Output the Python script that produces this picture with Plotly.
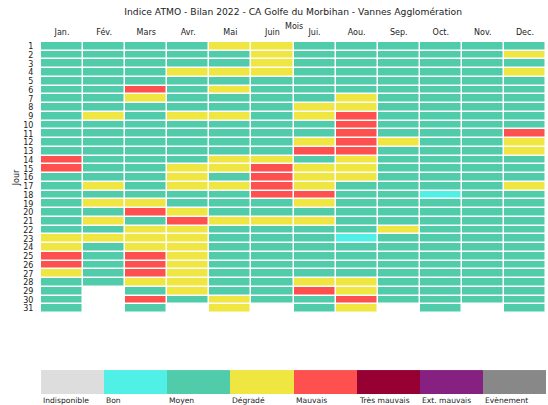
import plotly.graph_objects as go

months = ["Jan.", "Fév.", "Mars", "Avr.", "Mai", "Juin", "Jui.", "Aou.", "Sep.", "Oct.", "Nov.", "Dec."]
days = [str(d) for d in range(1, 32)]
categories = ["Indisponible", "Bon", "Moyen", "Dégradé", "Mauvais", "Très mauvais", "Ext. mauvais", "Evènement"]
colors = ["#dddddd", "#50f0e6", "#50ccaa", "#f0e641", "#ff5050", "#960032", "#872181", "#888888"]

# codes: 0 Indisponible, 1 Bon, 2 Moyen, 3 Dégradé, 4 Mauvais ... None = no day
jan = [2,2,2,2,2,2,2,2,2,2,2,2,2,4,4,2,2,2,2,2,2,2,3,3,4,4,3,2,2,2,2]
fev = [2,2,2,2,2,2,2,2,3,2,2,2,2,2,2,2,3,2,3,2,3,2,3,2,2,2,2,2,None,None,None]
mars = [2,2,2,2,2,4,3,2,2,2,2,2,2,2,2,2,2,2,3,4,2,3,3,3,4,4,4,3,2,4,2]
avr = [2,2,2,3,2,2,2,2,3,2,2,2,2,2,3,3,3,2,2,3,4,3,3,3,3,3,3,3,3,2,None]
mai = [3,2,2,3,2,3,2,2,3,2,2,2,2,3,3,2,3,2,2,2,3,2,2,2,2,2,2,2,2,3,3]
juin = [3,3,3,3,2,2,2,2,2,2,2,2,2,3,4,4,4,4,2,2,3,2,2,2,2,2,2,2,2,2,None]
juil = [2,2,2,2,2,2,2,3,3,2,2,3,4,2,3,3,3,4,3,2,3,2,2,2,2,2,2,3,4,2,2]
aout = [2,2,2,2,2,2,3,3,4,4,4,4,4,3,3,3,2,2,2,2,2,2,1,2,2,2,2,3,3,4,3]
sep = [2,2,2,2,2,2,2,2,2,2,2,3,2,2,2,2,2,2,2,2,2,3,2,2,2,2,2,2,2,2,None]
oct_ = [2,2,2,2,2,2,2,2,2,2,2,2,2,2,2,2,2,1,2,2,2,2,2,2,2,2,2,2,2,2,2]
nov = [2]*30 + [None]
dec = [2,3,2,3,2,2,2,2,2,2,4,3,3,2,2,2,3,2,2,2,2,2,2,2,2,2,2,2,2,2,2]

cols = [jan, fev, mars, avr, mai, juin, juil, aout, sep, oct_, nov, dec]
z = [[cols[m][d] for m in range(12)] for d in range(31)]

n = len(categories)
cs = []
for i, c in enumerate(colors):
    cs.append([i / n, c])
    cs.append([(i + 1) / n, c])

fig = go.Figure()
fig.add_trace(go.Heatmap(
    z=z, x=months, y=days, colorscale=cs, zmin=-0.5, zmax=n - 0.5,
    showscale=False, xgap=1.5, ygap=1.5, hoverongaps=False,
    xaxis="x", yaxis="y",
))
fig.add_trace(go.Heatmap(
    z=[list(range(n))], x=list(range(n)), y=[0], colorscale=cs, zmin=-0.5, zmax=n - 0.5,
    showscale=False, xaxis="x2", yaxis="y2",
))

font = "DejaVu Sans"
txt = "#222222"
annotations = []
for i, name in enumerate(categories):
    annotations.append(dict(
        x=i - 0.5, y=0, xref="x2", yref="paper", text=name, showarrow=False,
        xanchor="left", yanchor="top", yshift=0,
        font=dict(family=font, size=7.6, color=txt),
    ))
annotations.append(dict(
    x=0.5, y=1.043, xref="paper", yref="paper", text="Mois", showarrow=False,
    xanchor="center", yanchor="middle", font=dict(family=font, size=8, color=txt),
))

fig.update_layout(
    width=548, height=405,
    margin=dict(l=41, r=2, t=42, b=11, autoexpand=False),
    paper_bgcolor="white", plot_bgcolor="white",
    font=dict(family=font, size=8, color=txt),
    title=dict(text="Indice ATMO - Bilan 2022 - CA Golfe du Morbihan - Vannes Agglomération",
               x=0.535, xanchor="center", y=0.971, yanchor="middle", automargin=False,
               font=dict(family=font, size=9.2, color=txt)),
    xaxis=dict(side="top", domain=[0, 1], showgrid=False, zeroline=False, showline=False,
               ticks="outside", ticklen=3, tickcolor="rgba(0,0,0,0)",
               tickfont=dict(size=8), anchor="y", automargin=False),
    yaxis=dict(domain=[0.23, 1], autorange="reversed", showgrid=False, zeroline=False,
               showline=False, ticks="outside", ticklen=5, tickcolor="rgba(0,0,0,0)",
               tickfont=dict(size=8), anchor="x", automargin=False,
               tickmode="array", tickvals=days, ticktext=days,
               title=dict(text="Jour", font=dict(size=8), standoff=2)),
    xaxis2=dict(domain=[0, 1], anchor="y2", showticklabels=False, showgrid=False,
                zeroline=False, ticks="", range=[-0.5, n - 0.5], automargin=False),
    yaxis2=dict(domain=[0, 0.068], anchor="x2", showticklabels=False, showgrid=False,
                zeroline=False, ticks="", automargin=False),
    annotations=annotations,
)

fig.write_html("out.html", config={"displayModeBar": False},
               post_script="document.body.style.margin='0';")
